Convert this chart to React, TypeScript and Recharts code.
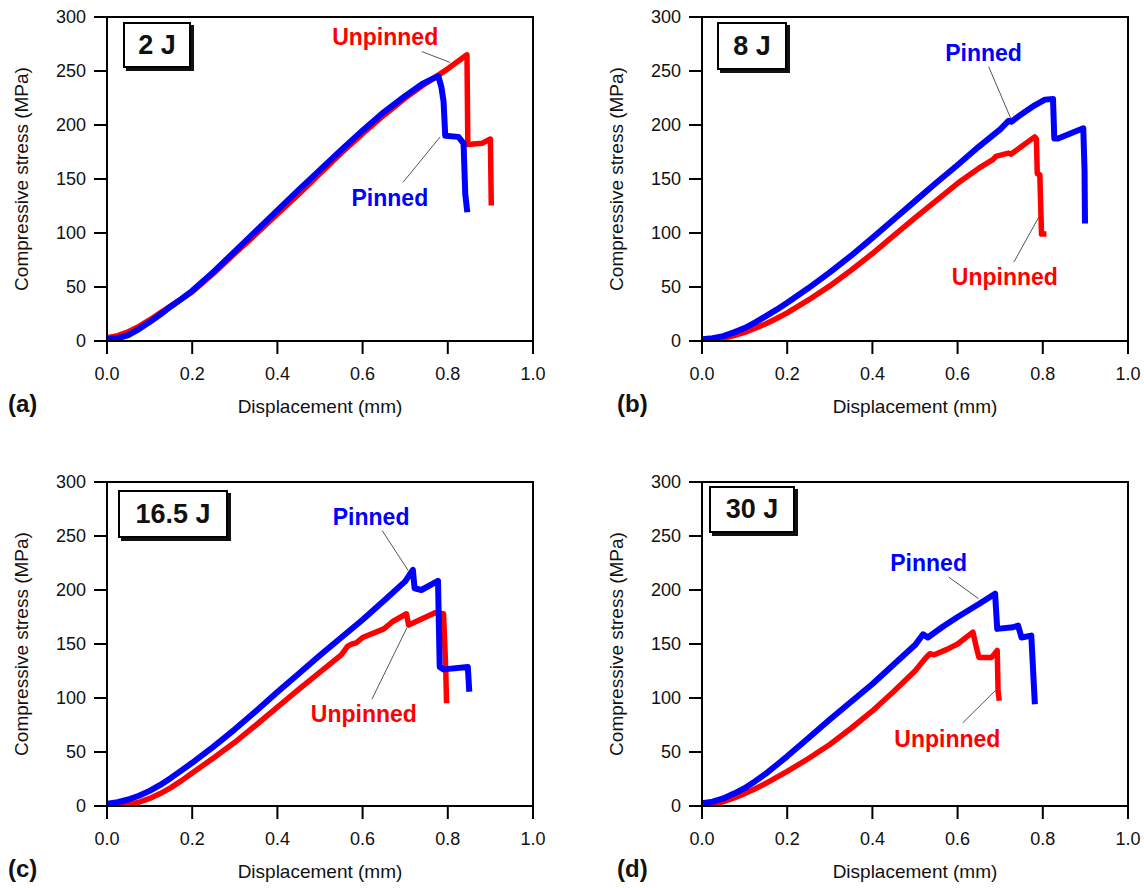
import React from 'react';
import { LineChart, Line, XAxis, YAxis, ReferenceLine, ReferenceDot, ReferenceArea, Label } from 'recharts';

// ---------- axis ticks & labels ----------
const xTicks = [0, 0.2, 0.4, 0.6, 0.8, 1.0];
const yTicks = [0, 50, 100, 150, 200, 250, 300];
const panelLetters = ['(a)', '(b)', '(c)', '(d)'];
const energyLabels = ['2 J', '8 J', '16.5 J', '30 J'];
const pinnedName = 'Pinned';
const unpinnedName = 'Unpinned';

// ---------- series: [displacement mm, stress MPa] ----------
const unpinnedA: [number, number][] = [
  [0, 3], [0.025, 5], [0.05, 8.5], [0.075, 13.5], [0.1, 19.5], [0.125, 26], [0.15, 32.5], [0.175, 39], [0.2, 45.5],
  [0.25, 62.5], [0.3, 81], [0.35, 99], [0.4, 117.5], [0.45, 136], [0.5, 155], [0.55, 174], [0.6, 192], [0.65, 209],
  [0.7, 225], [0.75, 239], [0.8, 252], [0.845, 265], [0.847, 182], [0.88, 183], [0.9, 187], [0.902, 128],
];
const pinnedA: [number, number][] = [
  [0, 1.5], [0.025, 2.5], [0.05, 5.5], [0.075, 11], [0.1, 17.5], [0.125, 24.5], [0.15, 32], [0.175, 39], [0.2, 46.5],
  [0.25, 64], [0.3, 83], [0.35, 102], [0.4, 121], [0.45, 140], [0.5, 158.5], [0.55, 177], [0.6, 195], [0.65, 212],
  [0.7, 227], [0.74, 238], [0.765, 243], [0.778, 245], [0.785, 235], [0.79, 222], [0.794, 190], [0.825, 189],
  [0.837, 183], [0.841, 136], [0.845, 122],
];
const unpinnedB: [number, number][] = [
  [0, 0.5], [0.025, 1.2], [0.05, 2.5], [0.075, 5], [0.1, 8], [0.125, 11.8], [0.15, 16], [0.175, 20.8], [0.2, 26],
  [0.25, 38], [0.3, 51], [0.35, 65.5], [0.4, 81], [0.45, 97.5], [0.5, 114], [0.55, 130], [0.6, 146], [0.65, 160],
  [0.675, 166], [0.683, 168], [0.69, 171], [0.71, 173], [0.72, 174], [0.725, 173], [0.75, 180], [0.781, 189],
  [0.785, 187], [0.787, 155], [0.793, 154], [0.797, 99], [0.802, 99],
];
const pinnedB: [number, number][] = [
  [0, 1.5], [0.025, 2.6], [0.05, 4.5], [0.075, 8], [0.1, 12], [0.125, 17.2], [0.15, 23], [0.175, 29], [0.2, 35.5],
  [0.25, 49], [0.3, 63.5], [0.35, 79], [0.4, 95.5], [0.45, 112.5], [0.5, 129.5], [0.55, 146.5], [0.6, 163], [0.65, 180],
  [0.7, 196], [0.72, 204], [0.726, 203], [0.75, 210], [0.78, 218], [0.805, 223.5], [0.824, 224], [0.827, 187.5],
  [0.836, 187.5], [0.895, 197], [0.898, 158], [0.899, 111.6],
];
const unpinnedC: [number, number][] = [
  [0.03, 0], [0.05, 1.5], [0.075, 3.5], [0.1, 7], [0.125, 11.5], [0.15, 17], [0.175, 23.5], [0.2, 30.5], [0.25, 44.5],
  [0.3, 59], [0.35, 75], [0.4, 91.5], [0.45, 108], [0.5, 124], [0.55, 140], [0.565, 148], [0.575, 150], [0.585, 151],
  [0.6, 156], [0.65, 164], [0.67, 170.6], [0.703, 178], [0.708, 167.5], [0.77, 179], [0.79, 178], [0.795, 128.7],
  [0.797, 97.7],
];
const pinnedC: [number, number][] = [
  [0, 2], [0.025, 3.5], [0.05, 6], [0.075, 9.5], [0.1, 14], [0.125, 19.5], [0.15, 26], [0.175, 33], [0.2, 40],
  [0.25, 55], [0.3, 71], [0.35, 88], [0.4, 105.5], [0.45, 122.5], [0.5, 139.6], [0.55, 156], [0.6, 172.5], [0.65, 190],
  [0.7, 208], [0.718, 218.7], [0.722, 201.6], [0.738, 200], [0.777, 208.5], [0.781, 128.7], [0.79, 126.5],
  [0.847, 128.7], [0.85, 108.6],
];
const unpinnedD: [number, number][] = [
  [0, 1], [0.025, 2], [0.05, 4], [0.075, 7.5], [0.1, 11.5], [0.125, 16], [0.15, 21], [0.175, 26.5], [0.2, 32],
  [0.25, 44], [0.3, 57], [0.35, 72], [0.4, 88], [0.45, 106], [0.5, 125], [0.525, 137], [0.535, 141], [0.545, 140],
  [0.575, 145], [0.6, 150], [0.636, 161], [0.644, 147], [0.65, 137.6], [0.68, 137.6], [0.693, 144], [0.695, 106.5],
  [0.697, 100],
];
const pinnedD: [number, number][] = [
  [0, 2.5], [0.025, 4], [0.05, 7], [0.075, 11.5], [0.1, 16.5], [0.125, 23], [0.15, 30], [0.175, 38], [0.2, 46],
  [0.25, 63], [0.3, 80], [0.35, 96.5], [0.4, 113], [0.45, 131], [0.5, 149], [0.519, 159], [0.53, 156], [0.565, 166],
  [0.6, 175], [0.65, 187], [0.688, 196.6], [0.693, 164], [0.73, 165.5], [0.742, 167], [0.75, 156], [0.773, 157.8],
  [0.781, 97],
];

const redSeries = [unpinnedA, unpinnedB, unpinnedC, unpinnedD];
const blueSeries = [pinnedA, pinnedB, pinnedC, pinnedD];

// ---------- annotation anchors (data coordinates) ----------
const pinnedTextAt: [number, number][] = [[0.664, 133], [0.661, 267], [0.62, 267.5], [0.532, 225]];
const pinnedLeader: [number, number, number, number][] = [
  [0.695, 147, 0.782, 189], [0.673, 254, 0.726, 205], [0.646, 255, 0.707, 218], [0.579, 212, 0.649, 192],
];
const unpinnedTextAt: [number, number][] = [[0.653, 281.5], [0.711, 59], [0.603, 85], [0.576, 62]];
const unpinnedLeader: [number, number, number, number][] = [
  [0.739, 268, 0.805, 258], [0.732, 73, 0.791, 115], [0.622, 99, 0.704, 165], [0.612, 77, 0.689, 107],
];

// ---------- layout ----------
const panelPos = [[0, 0], [595, 0], [0, 465], [595, 465]];
const boxLayout = [
  { left: 123, top: 22, w: 68, h: 46 },
  { left: 122, top: 22, w: 70, h: 48 },
  { left: 118, top: 25, w: 110, h: 48 },
  { left: 114, top: 21, w: 86, h: 47 },
];
const letterLeft = [8, 22, 8, 22];

const FONT = '"Liberation Sans", Arial, sans-serif';
const toPts = (a: [number, number][]) => a.map(([x, y]) => ({ x, y }));

function Panel({ idx }: { idx: number }) {
  const [pl, pt] = panelPos[idx];
  const box = boxLayout[idx];
  const pT = pinnedTextAt[idx];
  const uT = unpinnedTextAt[idx];
  const pL = pinnedLeader[idx];
  const uL = unpinnedLeader[idx];
  const axisStyle = { stroke: '#000', strokeWidth: 2 };
  const tickStyle = { fill: '#111', fontSize: 18, fontFamily: FONT };
  return (
    <div style={{ position: 'absolute', left: pl, top: pt, width: 595, height: 465 }}>
      <LineChart width={595} height={465} margin={{ top: 17, right: 62, left: 20, bottom: 54 }}>
        <XAxis
          type="number"
          dataKey="x"
          domain={[0, 1]}
          ticks={xTicks}
          tickFormatter={(v: number) => v.toFixed(1)}
          tickSize={13}
          tickMargin={13}
          height={70}
          axisLine={axisStyle}
          tickLine={axisStyle}
          tick={tickStyle}
          allowDataOverflow
        >
          <Label value="Displacement (mm)" position="insideBottom" offset={-2} fill="#111" fontSize={19} fontFamily={FONT} />
        </XAxis>
        <YAxis
          type="number"
          domain={[0, 300]}
          ticks={yTicks}
          tickSize={13}
          tickMargin={8}
          width={87}
          axisLine={axisStyle}
          tickLine={axisStyle}
          tick={tickStyle}
          allowDataOverflow
        >
          <Label
            value="Compressive stress (MPa)"
            angle={-90}
            position="insideLeft"
            offset={1}
            fill="#111"
            fontSize={19}
            fontFamily={FONT}
            style={{ textAnchor: 'middle' }}
          />
        </YAxis>
        <ReferenceArea x1={0} x2={1} y1={0} y2={300} fill="none" stroke="#000" strokeWidth={2} />
        <ReferenceLine segment={[{ x: pL[0], y: pL[1] }, { x: pL[2], y: pL[3] }]} stroke="#555" strokeWidth={1} />
        <ReferenceLine segment={[{ x: uL[0], y: uL[1] }, { x: uL[2], y: uL[3] }]} stroke="#555" strokeWidth={1} />
        <Line
          data={toPts(redSeries[idx])}
          dataKey="y"
          type="linear"
          stroke="#ff0000"
          strokeWidth={5.5}
          dot={false}
          strokeLinejoin="round"
          strokeLinecap="square"
          isAnimationActive={false}
        />
        <Line
          data={toPts(blueSeries[idx])}
          dataKey="y"
          type="linear"
          stroke="#0000ff"
          strokeWidth={6}
          dot={false}
          strokeLinejoin="round"
          strokeLinecap="square"
          isAnimationActive={false}
        />
        <ReferenceDot
          x={pT[0]}
          y={pT[1]}
          r={0}
          fill="none"
          stroke="none"
          label={{ value: pinnedName, position: 'center', fill: '#0000ff', fontSize: 23, fontWeight: 'bold', fontFamily: FONT }}
        />
        <ReferenceDot
          x={uT[0]}
          y={uT[1]}
          r={0}
          fill="none"
          stroke="none"
          label={{ value: unpinnedName, position: 'center', fill: '#ff0000', fontSize: 23, fontWeight: 'bold', fontFamily: FONT }}
        />
      </LineChart>
      <div
        style={{
          position: 'absolute',
          left: box.left,
          top: box.top,
          width: box.w,
          height: box.h,
          boxSizing: 'border-box',
          border: '2px solid #000',
          boxShadow: '3px 3px 0 #111',
          background: '#fff',
          display: 'flex',
          alignItems: 'center',
          justifyContent: 'center',
          fontFamily: FONT,
          fontWeight: 'bold',
          fontSize: 27,
          color: '#111',
        }}
      >
        {energyLabels[idx]}
      </div>
      <div
        style={{
          position: 'absolute',
          left: letterLeft[idx],
          top: 390,
          fontFamily: FONT,
          fontWeight: 'bold',
          fontSize: 24,
          lineHeight: '28px',
          color: '#111',
        }}
      >
        {panelLetters[idx]}
      </div>
    </div>
  );
}

export default function App() {
  return (
    <div style={{ position: 'absolute', left: 0, top: 0, width: 1144, height: 888, background: '#fff', overflow: 'hidden' }}>
      {[0, 1, 2, 3].map((i) => (
        <Panel key={i} idx={i} />
      ))}
    </div>
  );
}
